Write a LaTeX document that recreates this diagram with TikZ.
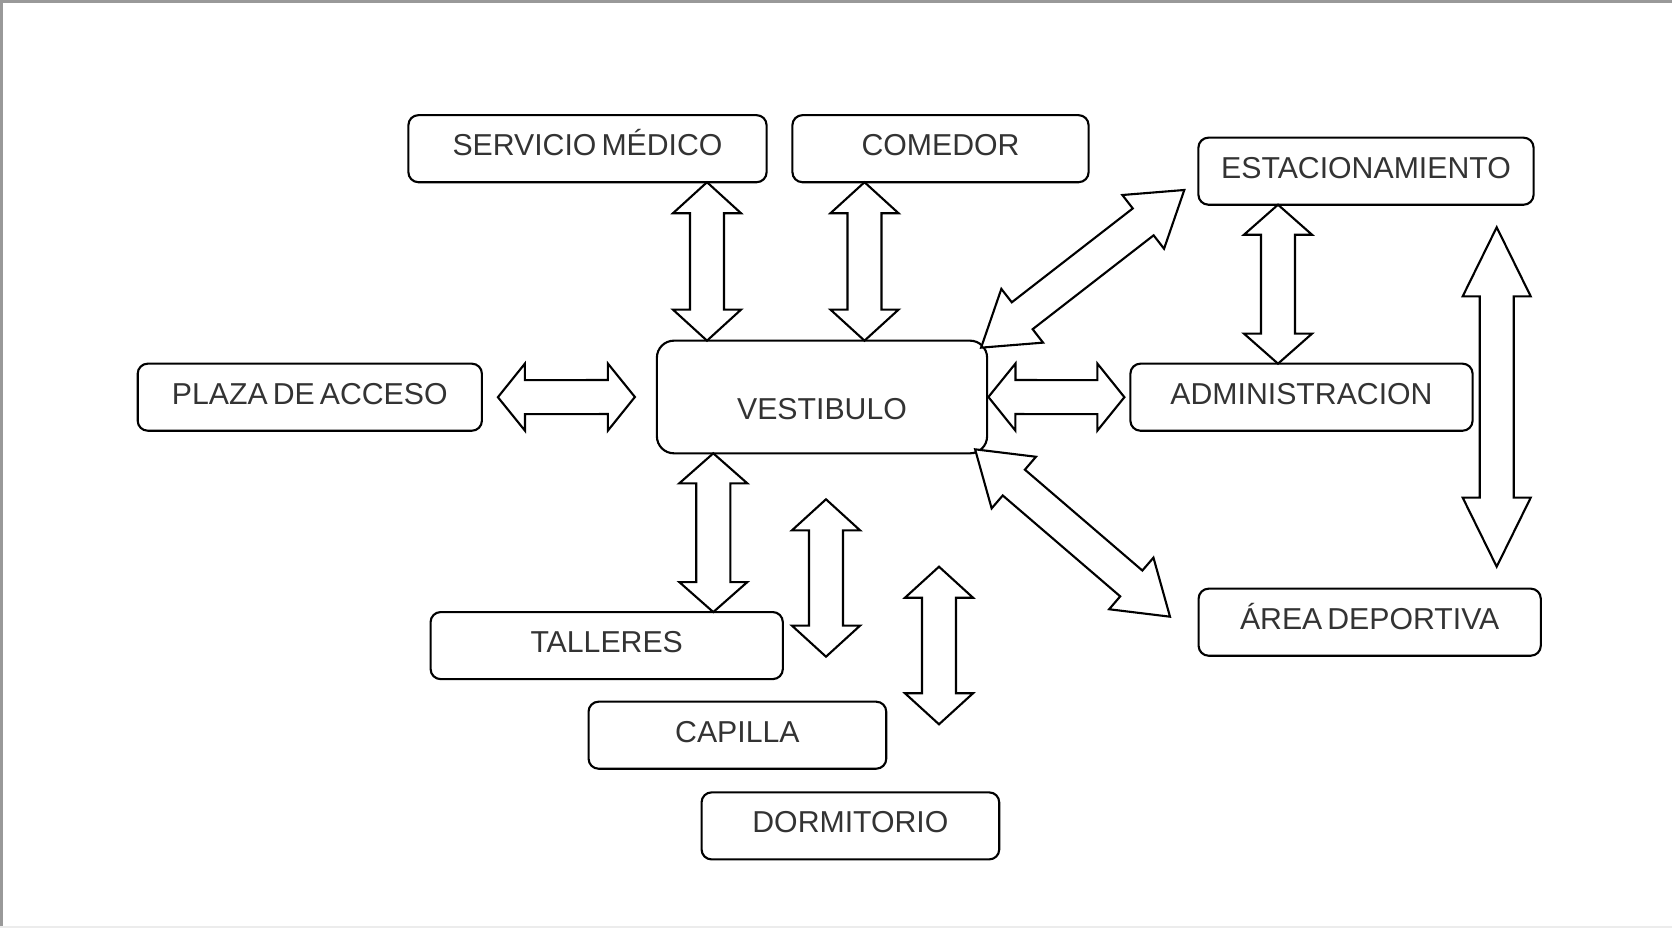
\documentclass[tikz,border=0pt]{standalone}
\usepackage{fontspec}
\setmainfont{Liberation Sans}[WordSpace=0.6]
\usetikzlibrary{calc,positioning}

\tikzset{
  head len/.store in=\arrowhl, head half/.store in=\arrowhw, shaft half/.store in=\arrowsw,
  head len=0.31cm, head half=0.34cm, shaft half=0.17cm
}

\begin{document}
\begin{tikzpicture}[x=0.01cm,y=-0.01cm,
    room/.style={draw,line width=0.6pt,rounded corners=0.1cm,inner sep=0pt,outer sep=0pt,
      minimum height=0.67cm,text height=0.22cm,text depth=0.08cm,
      font=\fontsize{8.6}{10}\selectfont,text=black!80},
    dblarrow/.style={draw,line width=0.6pt,fill=white,line join=miter,to path={
      -- ($(\tikztostart)!\arrowhl!(\tikztotarget)!\arrowhw!90:(\tikztotarget)$)
      -- ($(\tikztostart)!\arrowhl!(\tikztotarget)!\arrowsw!90:(\tikztotarget)$)
      -- ($(\tikztotarget)!\arrowhl!(\tikztostart)!\arrowsw!-90:(\tikztostart)$)
      -- ($(\tikztotarget)!\arrowhl!(\tikztostart)!\arrowhw!-90:(\tikztostart)$)
      -- (\tikztotarget)
      -- ($(\tikztotarget)!\arrowhl!(\tikztostart)!\arrowhw!90:(\tikztostart)$)
      -- ($(\tikztotarget)!\arrowhl!(\tikztostart)!\arrowsw!90:(\tikztostart)$)
      -- ($(\tikztostart)!\arrowhl!(\tikztotarget)!\arrowsw!-90:(\tikztotarget)$)
      -- ($(\tikztostart)!\arrowhl!(\tikztotarget)!\arrowhw!-90:(\tikztotarget)$)
      -- cycle}}]
  \useasboundingbox (0,0) rectangle (1672,928);
  \draw[gray!80,line width=0.6pt] (1.5,928) -- (1.5,1.5) -- (1672,1.5);
  \draw[gray!15,line width=0.5pt] (0,927) -- (1672,927);

  % rooms
  \node[room,minimum width=3.58cm] (serv) at (587.5,148.7) {SERVICIO MÉDICO};
  \node[room,minimum width=2.96cm] (com) at (940.5,148.7) {COMEDOR};
  \node[room,minimum width=3.35cm] (est) at (1366,171.2) {ESTACIONAMIENTO};
  \node[room,minimum width=3.44cm] (plaza) at (309.8,397.2) {PLAZA DE ACCESO};
  \node[room,minimum width=3.30cm,minimum height=1.126cm,rounded corners=0.17cm,
        text height=0.44cm,text depth=0pt] (vest) at (822,397) {VESTIBULO};
  \node[room,minimum width=3.42cm] (admin) at (1301.5,397.2) {ADMINISTRACION};
  \node[room,minimum width=3.42cm] (area) at (1369.7,622.2) {ÁREA DEPORTIVA};
  \node[room,minimum width=3.52cm] (tall) at (606.7,645.6) {TALLERES};
  \node[room,minimum width=2.975cm] (cap) at (737.4,735.2) {CAPILLA};
  \node[room,minimum width=2.975cm] (dorm) at (850.4,825.9) {DORMITORIO};

  % free ends
  \coordinate (estup) at (1184.3,190);
  \coordinate (areaup) at (1170,616.7);
  \coordinate (r1) at (1496.7,227.3);
  \coordinate (r2) at (1496.7,566.7);
  \coordinate (f1) at (826,499.3);
  \coordinate (f2) at (826,656.7);
  \coordinate (g1) at (939,566.7);
  \coordinate (g2) at (939,724.3);

  % links
  \draw[dblarrow] ($(serv.south)+(119.5,0)$) to ($(vest.north)+(-115,0)$);
  \draw[dblarrow] ($(com.south)+(-76,0)$) to ($(vest.north)+(42.5,0)$);
  \draw[dblarrow,head len=0.27cm,head half=0.335cm] ($(plaza.east)+(16,0)$) to ($(vest.west)+(-22,0)$);
  \draw[dblarrow,head len=0.27cm,head half=0.335cm] ($(vest.east)+(1.3,0)$) to ($(admin.west)+(-6,0)$);
  \draw[dblarrow,head len=0.30cm] ($(est.south)+(-88,0)$) to ($(admin.north)+(-23.5,0)$);
  \draw[dblarrow,head len=0.69cm] (r1) to (r2);
  \draw[dblarrow,head len=0.30cm] ($(vest.south)+(-108.7,0)$) to ($(tall.north)+(106.6,0)$);
  \draw[dblarrow] (f1) to (f2);
  \draw[dblarrow] (g1) to (g2);
  \draw[dblarrow,head len=0.52cm] ($(vest.north east)+(-6,7)$) to (estup);
  \draw[dblarrow,head len=0.51cm] ($(vest.south east)+(-12,-4)$) to (areaup);
\end{tikzpicture}
\end{document}
